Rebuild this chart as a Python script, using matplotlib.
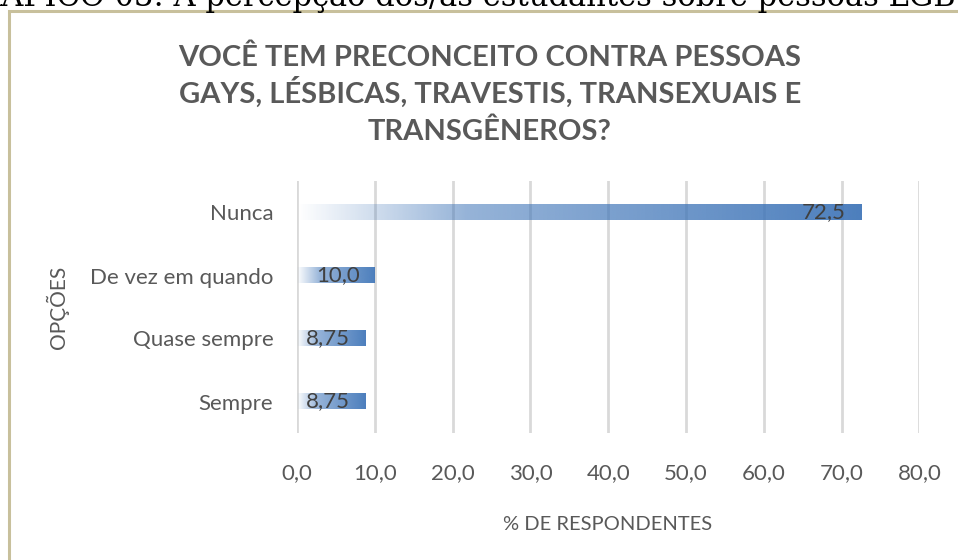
import numpy as np
import matplotlib
matplotlib.use("Agg")
import matplotlib.pyplot as plt
from matplotlib.patches import Rectangle

categorias  = ["Sempre", "Quase sempre", "De vez em quando", "Nunca"]
percentuais = [8.75, 8.75, 10.0, 72.5]
rotulos     = ["8,75", "8,75", "10,0", "72,5"]
xticks      = [0, 10, 20, 30, 40, 50, 60, 70, 80]
xticklabels = ["0,0", "10,0", "20,0", "30,0", "40,0", "50,0", "60,0", "70,0", "80,0"]

TITULO = ["VOCÊ TEM PRECONCEITO CONTRA PESSOAS",
          "GAYS, LÉSBICAS, TRAVESTIS, TRANSEXUAIS E",
          "TRANSGÊNEROS?"]
CABECALHO = "GRÁFICO 03: A percepção dos/as estudantes sobre pessoas LGBT"

W, H = 958, 560
plt.rcParams["font.family"] = ["Lato", "DejaVu Sans"]

fig = plt.figure(figsize=(W / 100, H / 100), dpi=100)
ax = fig.add_axes([297 / W, 1 - 433 / H, (919.4 - 297) / W, (433 - 181) / H])

# gradient fill, blue with alpha ramp (excel style)
n = 256
t = np.linspace(0, 1, n)
alpha = np.interp(t, [0, 0.3, 1], [0.0, 0.55, 0.93])
grad = np.zeros((1, n, 4))
grad[..., 0], grad[..., 1], grad[..., 2] = 63 / 255, 117 / 255, 184 / 255
grad[..., 3] = alpha

bars = ax.barh(categorias, percentuais, height=0.25, color="none", zorder=2)
for bar, rot in zip(bars, rotulos):
    x0, y0, w, h = bar.get_x(), bar.get_y(), bar.get_width(), bar.get_height()
    ax.imshow(grad, extent=[x0, x0 + w, y0, y0 + h], aspect="auto", zorder=2,
              interpolation="bilinear")
    ax.annotate(rot, xy=(x0 + w, y0 + h / 2), xytext=(-15, 0), textcoords="offset pixels",
                ha="right", va="center", fontsize=16, color="#404040", zorder=3)

ax.set_xlim(0, 80)
ax.set_ylim(-0.5, 3.5)
ax.set_xticks(xticks)
ax.set_xticklabels(xticklabels)
ax.xaxis.grid(True, color="#d9d9d9", linewidth=2)
ax.set_axisbelow(True)
for s in ax.spines.values():
    s.set_visible(False)
ax.tick_params(axis="x", length=0, pad=22, labelsize=16, labelcolor="#595959")
ax.tick_params(axis="y", length=0, pad=17, labelsize=16, labelcolor="#595959")

# title, one line at a time (baseline) so the spacing is even
for i, linha in enumerate(TITULO):
    fig.text(490 / W, 1 - (66 + 37 * i) / H, linha, ha="center", va="baseline", fontsize=21,
             fontweight="bold", color="#595959")
fig.text(608 / W, 1 - 524 / H, "% DE RESPONDENTES", ha="center", va="center",
         fontsize=14.5, color="#595959")
fig.text(57 / W, 1 - 307 / H, "OPÇÕES", ha="center", va="center", rotation=90,
         fontsize=15, color="#595959")

# cropped caption from the page and chart frame
fig.text(-46 / W, 1 - 6 / H, CABECALHO, ha="left", va="baseline", fontsize=22,
         family="DejaVu Serif", color="black")
fig.patches.append(Rectangle((9 / W, -0.1), 1.2, (H - 10.5) / H + 0.1, transform=fig.transFigure,
                             fill=False, edgecolor="#c8c09c", linewidth=2.2))

fig.savefig("out.png", dpi=100)
